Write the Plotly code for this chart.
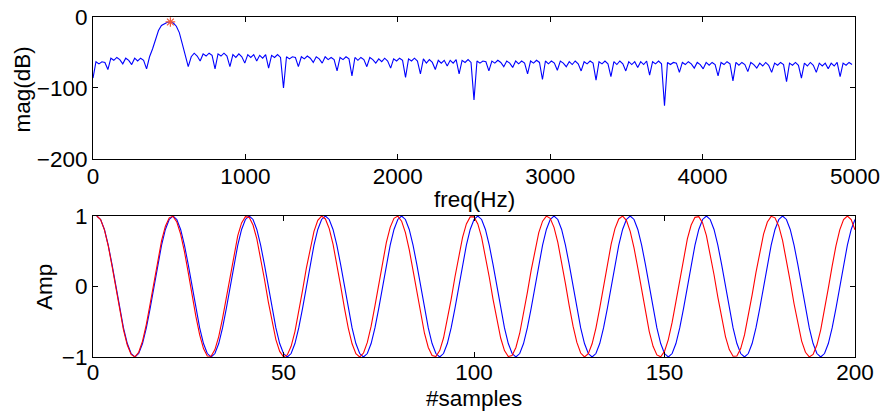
import plotly.graph_objects as go

# ---------------- data ----------------
# spectrum: FFT bins 0..255, fs = 10000 Hz, 512-point FFT
freq_step_hz = 10000 / 512
spectrum_db = [
    -86, -63, -66, -63, -64, -74, -58, -61, -57, -60, -66, -58, -61, -67, -58, -62,
    -58, -61, -73, -56, -45, -31, -19, -12, -9, -7.3, -7.0, -8.5, -13, -22, -38, -55,
    -70, -56, -51, -55, -62, -52, -55, -51, -54, -73, -52, -55, -51, -55, -70, -53,
    -57, -52, -56, -65, -53, -57, -53, -62, -54, -58, -53, -72, -54, -57, -53, -57,
    -100,
    -56, -59, -56, -57, -70, -56, -59, -55, -58, -64, -56, -59, -65, -56, -60, -57,
    -60, -76, -57, -60, -56, -59, -83, -57, -61, -57, -60, -70, -57, -60, -65, -59,
    -63, -58, -62, -72, -59, -62, -58, -61, -85, -59, -62, -58, -62, -80, -59, -65,
    -60, -64, -74, -61, -65, -61, -69, -61, -65, -60, -80, -61, -64, -60, -64,
    -117,
    -62, -65, -62, -63, -76, -62, -65, -61, -64, -70, -62, -65, -71, -62, -66, -62,
    -65, -80, -62, -65, -61, -64, -88, -62, -66, -62, -65, -75, -62, -65, -70, -63,
    -67, -62, -66, -76, -63, -66, -62, -65, -89, -63, -66, -62, -66, -84, -63, -67,
    -62, -66, -76, -63, -67, -63, -71, -63, -67, -62, -82, -63, -66, -62, -66,
    -125,
    -64, -67, -64, -65, -78, -64, -67, -63, -66, -72, -64, -67, -73, -64, -68, -64,
    -67, -83, -64, -67, -63, -66, -90, -64, -68, -64, -67, -77, -64, -67, -72, -65,
    -69, -64, -68, -78, -65, -68, -64, -67, -91, -65, -68, -64, -68, -86, -65, -69,
    -64, -68, -78, -65, -69, -65, -73, -65, -69, -64, -84, -65, -68, -64, -67,
]
freq_hz = [i * freq_step_hz for i in range(len(spectrum_db))]

peak_freq_hz = [507.8125]
peak_mag_db = [-7.0]

# time signals, samples 1..200
sample_index = list(range(1, 201))
blue_amp = [
    1.000, 0.951, 0.809, 0.588, 0.309, 0.000, -0.309, -0.588, -0.809, -0.951,
    -1.000, -0.951, -0.809, -0.588, -0.309, 0.000, 0.309, 0.588, 0.809, 0.951,
    1.000, 0.951, 0.809, 0.588, 0.309, 0.000, -0.309, -0.588, -0.809, -0.951,
    -1.000, -0.951, -0.809, -0.588, -0.309, 0.000, 0.309, 0.588, 0.809, 0.951,
    1.000, 0.951, 0.809, 0.588, 0.309, 0.000, -0.309, -0.588, -0.809, -0.951,
    -1.000, -0.951, -0.809, -0.588, -0.309, 0.000, 0.309, 0.588, 0.809, 0.951,
    1.000, 0.951, 0.809, 0.588, 0.309, 0.000, -0.309, -0.588, -0.809, -0.951,
    -1.000, -0.951, -0.809, -0.588, -0.309, 0.000, 0.309, 0.588, 0.809, 0.951,
    1.000, 0.951, 0.809, 0.588, 0.309, 0.000, -0.309, -0.588, -0.809, -0.951,
    -1.000, -0.951, -0.809, -0.588, -0.309, 0.000, 0.309, 0.588, 0.809, 0.951,
    1.000, 0.951, 0.809, 0.588, 0.309, 0.000, -0.309, -0.588, -0.809, -0.951,
    -1.000, -0.951, -0.809, -0.588, -0.309, 0.000, 0.309, 0.588, 0.809, 0.951,
    1.000, 0.951, 0.809, 0.588, 0.309, 0.000, -0.309, -0.588, -0.809, -0.951,
    -1.000, -0.951, -0.809, -0.588, -0.309, 0.000, 0.309, 0.588, 0.809, 0.951,
    1.000, 0.951, 0.809, 0.588, 0.309, 0.000, -0.309, -0.588, -0.809, -0.951,
    -1.000, -0.951, -0.809, -0.588, -0.309, 0.000, 0.309, 0.588, 0.809, 0.951,
    1.000, 0.951, 0.809, 0.588, 0.309, 0.000, -0.309, -0.588, -0.809, -0.951,
    -1.000, -0.951, -0.809, -0.588, -0.309, 0.000, 0.309, 0.588, 0.809, 0.951,
    1.000, 0.951, 0.809, 0.588, 0.309, 0.000, -0.309, -0.588, -0.809, -0.951,
    -1.000, -0.951, -0.809, -0.588, -0.309, 0.000, 0.309, 0.588, 0.809, 0.951,
]
red_amp = [
    1.000, 0.949, 0.803, 0.576, 0.290, -0.024, -0.336, -0.614, -0.830, -0.963,
    -0.999, -0.933, -0.774, -0.536, -0.245, 0.072, 0.381, 0.651, 0.856, 0.974,
    0.995, 0.915, 0.742, 0.495, 0.198, -0.119, -0.425, -0.687, -0.880, -0.985,
    -0.989, -0.894, -0.710, -0.453, -0.151, 0.167, 0.467, 0.721, 0.902, 0.991,
    0.981, 0.872, 0.675, 0.410, 0.103, -0.214, -0.509, -0.753, -0.921, -0.997,
    -0.971, -0.848, -0.639, -0.366, -0.056, 0.260, 0.549, 0.783, 0.939, 0.999,
    0.958, 0.822, 0.601, 0.321, 0.008, -0.306, -0.589, -0.813, -0.954, -1.000,
    -0.944, -0.793, -0.563, -0.275, 0.040, 0.351, 0.627, 0.839, 0.967, 0.998,
    0.927, 0.764, 0.522, 0.229, -0.088, -0.395, -0.663, -0.865, -0.978, -0.993,
    -0.909, -0.731, -0.481, -0.182, 0.135, 0.439, 0.698, 0.887, 0.987, 0.987,
    0.887, 0.698, 0.439, 0.135, -0.182, -0.481, -0.731, -0.909, -0.993, -0.978,
    -0.865, -0.663, -0.395, -0.088, 0.229, 0.522, 0.764, 0.927, 0.998, 0.967,
    0.839, 0.627, 0.351, 0.040, -0.275, -0.563, -0.793, -0.944, -1.000, -0.954,
    -0.813, -0.589, -0.306, 0.008, 0.321, 0.601, 0.822, 0.958, 0.999, 0.939,
    0.783, 0.549, 0.260, -0.056, -0.366, -0.639, -0.848, -0.971, -0.997, -0.921,
    -0.753, -0.509, -0.214, 0.103, 0.410, 0.675, 0.872, 0.981, 0.991, 0.902,
    0.721, 0.467, 0.167, -0.151, -0.453, -0.710, -0.894, -0.989, -0.985, -0.880,
    -0.687, -0.425, -0.119, 0.198, 0.495, 0.742, 0.915, 0.995, 0.974, 0.856,
    0.651, 0.381, 0.072, -0.245, -0.536, -0.774, -0.933, -0.999, -0.963, -0.830,
    -0.614, -0.336, -0.024, 0.290, 0.576, 0.803, 0.949, 1.000, 0.949, 0.803,
]

top_xticks = [0, 1000, 2000, 3000, 4000, 5000]
top_yticks = [-200, -100, 0]
bot_xticks = [0, 50, 100, 150, 200]
bot_yticks = [-1, 0, 1]

# ---------------- figure ----------------
FONT = "Liberation Sans, Arial, Helvetica, sans-serif"
FS = 22.5

fig = go.Figure()
fig.add_trace(go.Scatter(x=freq_hz, y=spectrum_db, mode="lines",
                         line=dict(color="#0000ff", width=1.1),
                         xaxis="x", yaxis="y", showlegend=False))
fig.add_trace(go.Scatter(x=peak_freq_hz, y=peak_mag_db, mode="markers",
                         marker=dict(symbol="asterisk-open", size=8,
                                     line=dict(color="#ff0000", width=1.2)),
                         xaxis="x", yaxis="y", showlegend=False))
fig.add_trace(go.Scatter(x=sample_index, y=blue_amp, mode="lines",
                         line=dict(color="#0000ff", width=1.1),
                         xaxis="x2", yaxis="y2", showlegend=False))
fig.add_trace(go.Scatter(x=sample_index, y=red_amp, mode="lines",
                         line=dict(color="#ff0000", width=1.1),
                         xaxis="x2", yaxis="y2", showlegend=False))

axis_style = dict(showline=True, linecolor="black", linewidth=1, mirror="ticks",
                  ticks="inside", ticklen=5, tickcolor="black", tickwidth=1,
                  showgrid=False, zeroline=False, automargin=False,
                  tickfont=dict(family=FONT, size=FS, color="black"))

fig.update_layout(
    width=883, height=411,
    margin=dict(l=93, r=28, t=17, b=54, autoexpand=False),
    paper_bgcolor="white", plot_bgcolor="white",
    xaxis=dict(domain=[0, 1], range=[0, 5000], tickvals=top_xticks,
               anchor="y", ticklabelstandoff=-3, **axis_style),
    yaxis=dict(domain=[0.5824, 1.0], range=[-200, 0], tickvals=top_yticks,
               anchor="x", ticklabelstandoff=0, **axis_style),
    xaxis2=dict(domain=[0, 1], range=[0, 200], tickvals=bot_xticks,
                anchor="y2", ticklabelstandoff=-5, **axis_style),
    yaxis2=dict(domain=[0, 0.4147], range=[-1, 1], tickvals=bot_yticks,
                anchor="x2", ticklabelstandoff=0, **axis_style),
    annotations=[
        dict(text="freq(Hz)", x=0.5, y=0.4647, xref="paper", yref="paper",
             showarrow=False, xanchor="center", yanchor="middle",
             font=dict(family=FONT, size=FS, color="black")),
        dict(text="#samples", x=0.5, y=-0.122, xref="paper", yref="paper",
             showarrow=False, xanchor="center", yanchor="middle",
             font=dict(family=FONT, size=FS, color="black")),
        dict(text="mag(dB)", x=-0.0925, y=0.785, xref="paper", yref="paper",
             showarrow=False, xanchor="center", yanchor="middle", textangle=-90,
             font=dict(family=FONT, size=FS, color="black")),
        dict(text="Amp", x=-0.063, y=0.206, xref="paper", yref="paper",
             showarrow=False, xanchor="center", yanchor="middle", textangle=-90,
             font=dict(family=FONT, size=FS, color="black")),
    ],
)

fig.write_html("out.html")
